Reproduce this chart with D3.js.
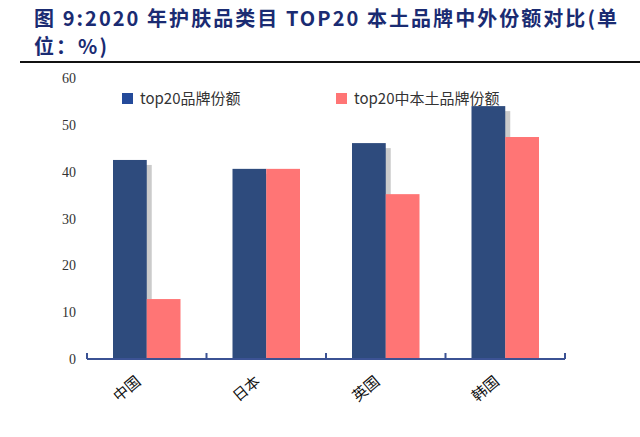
<!DOCTYPE html>
<html>
<head>
<meta charset="utf-8">
<script src="https://cdn.jsdelivr.net/npm/d3@7"></script>
<style>
  body { margin: 0; background: #fff; }
  svg { display: block; }
</style>
</head>
<body>
<div id="chart"></div>
<script>
const categories = ["中国", "日本", "英国", "韩国"];
const seriesNames = ["top20品牌份额", "top20中本土品牌份额"];
const brandShare = [42.5, 40.6, 46.1, 54.0];
const localShare = [12.8, 40.6, 35.2, 47.4];
const yTicks = [0, 10, 20, 30, 40, 50, 60];

const width = 640, height = 437;
const colors = ["#2e4b7d", "#ff7575"];

const svg = d3.select("#chart").append("svg")
  .attr("width", width)
  .attr("height", height);

// title, stretched to the width of the original
const title = svg.append("text")
  .attr("font-family", "'Noto Sans CJK SC', sans-serif")
  .attr("font-weight", "bold")
  .attr("font-size", 20)
  .attr("fill", "#1a2b72");
title.append("tspan").attr("x", 34).attr("y", 26)
  .attr("textLength", 583).attr("lengthAdjust", "spacing")
  .text("图 9:2020 年护肤品类目 TOP20 本土品牌中外份额对比(单");
title.append("tspan").attr("x", 34).attr("y", 54)
  .attr("textLength", 73).attr("lengthAdjust", "spacing")
  .text("位：%)");

svg.append("line")
  .attr("x1", 20).attr("x2", width)
  .attr("y1", 62).attr("y2", 62)
  .attr("stroke", "#111")
  .attr("stroke-width", 2);

// scales
const x = d3.scaleBand()
  .domain(categories)
  .range([87, 565])
  .paddingInner(0)
  .paddingOuter(0);

const sub = d3.scaleBand()
  .domain([0, 1])
  .range([26, x.bandwidth() - 26]);

const y = d3.scaleLinear()
  .domain([0, 60])
  .range([359, 78]);

// y labels
svg.selectAll(".ytick")
  .data(yTicks)
  .join("text")
  .attr("class", "ytick")
  .attr("x", 76)
  .attr("y", d => y(d) + 5)
  .attr("text-anchor", "end")
  .attr("font-family", "'Liberation Serif', serif")
  .attr("font-size", 14)
  .attr("fill", "#333")
  .text(d => d);

const rows = categories.map((c, i) => ({ cat: c, vals: [brandShare[i], localShare[i]] }));

// shadow behind blue bars
svg.selectAll(".shadow")
  .data(rows)
  .join("rect")
  .attr("class", "shadow")
  .attr("x", d => x(d.cat) + sub(0) + 5)
  .attr("y", d => y(d.vals[0]) + 5)
  .attr("width", sub.bandwidth())
  .attr("height", d => y(0) - y(d.vals[0]) - 5)
  .attr("fill", "#a9a9a9")
  .attr("opacity", 0.6);

// bars
const groups = svg.selectAll(".grp")
  .data(rows)
  .join("g")
  .attr("class", "grp")
  .attr("transform", d => `translate(${x(d.cat)},0)`);

groups.selectAll("rect")
  .data(d => d.vals.map((v, k) => ({ v, k })))
  .join("rect")
  .attr("x", d => sub(d.k))
  .attr("y", d => y(d.v))
  .attr("width", sub.bandwidth())
  .attr("height", d => y(0) - y(d.v))
  .attr("fill", d => colors[d.k]);

// x axis
const xAxis = svg.append("g").attr("stroke", "#3b5294").attr("stroke-width", 2);
xAxis.append("line")
  .attr("x1", x.range()[0]).attr("x2", x.range()[1])
  .attr("y1", y(0)).attr("y2", y(0));
xAxis.selectAll(".tk")
  .data(categories.map(c => x(c)).concat([x.range()[1]]))
  .join("line")
  .attr("x1", d => d).attr("x2", d => d)
  .attr("y1", y(0) - 6).attr("y2", y(0));

svg.selectAll(".xlab")
  .data(categories)
  .join("text")
  .attr("class", "xlab")
  .attr("text-anchor", "end")
  .attr("font-family", "'Noto Sans CJK SC', sans-serif")
  .attr("font-size", 15)
  .attr("fill", "#111")
  .attr("transform", d => `translate(${x(d) + x.bandwidth() / 2 - 5},${y(0) + 24}) rotate(-40)`)
  .text(d => d);

// legend
const legendX = [122, 336];
const legend = svg.selectAll(".leg")
  .data(seriesNames)
  .join("g")
  .attr("class", "leg")
  .attr("transform", (d, i) => `translate(${legendX[i]},93)`);
legend.append("rect")
  .attr("width", 11).attr("height", 11)
  .attr("fill", (d, i) => i === 0 ? "#244a9a" : colors[1]);
legend.append("text")
  .attr("x", 18).attr("y", 11)
  .attr("font-family", "'Noto Sans CJK SC', sans-serif")
  .attr("font-size", 15)
  .attr("fill", "#333")
  .text(d => d);
</script>
</body>
</html>
